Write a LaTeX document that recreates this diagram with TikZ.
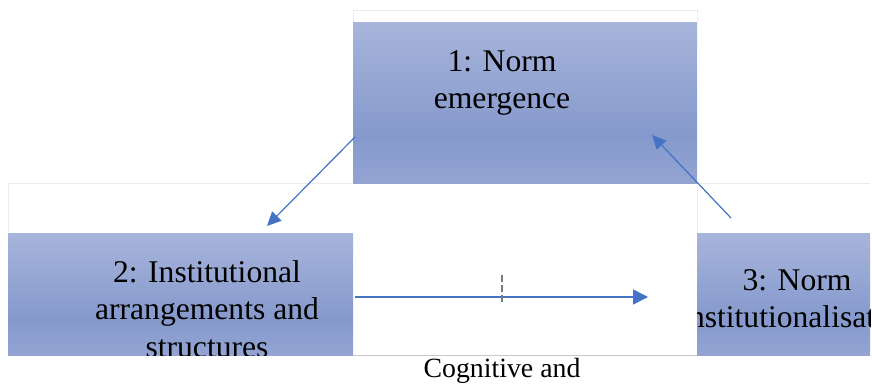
\documentclass[tikz,border=0pt]{standalone}
\usepackage{fontspec}
\setmainfont{Liberation Serif}
\usetikzlibrary{arrows.meta}
\definecolor{gT}{HTML}{A7B5DB}
\definecolor{gM}{HTML}{8599CC}
\definecolor{gB}{HTML}{93A4D3}
\definecolor{arrowblue}{HTML}{4472C4}
\definecolor{lineblue}{HTML}{6E8FCB}
\definecolor{framegrey}{HTML}{E8EBF4}
\definecolor{rulegrey}{HTML}{C8C8C8}
\definecolor{tickgrey}{HTML}{7A7A7A}
\pgfdeclareverticalshading{wordgrad}{100bp}{color(0bp)=(gB); color(25bp)=(gB); color(40bp)=(gM); color(75bp)=(gT); color(100bp)=(gT)}
\begin{document}
\begin{tikzpicture}[x=1pt,y=-1pt,
  box/.style={shading=wordgrad, shade, draw=none, inner sep=0pt, anchor=north west},
  lbl/.style={inner sep=0pt, anchor=base, font=\fontsize{31.6}{37}\selectfont},
  small/.style={inner sep=0pt, anchor=base, font=\fontsize{27.8}{32}\selectfont},
  frame/.style={draw=framegrey, line width=0.8pt},
  link/.style={draw=arrowblue, line width=1.2pt, -{Triangle[length=14pt,width=13pt]}},
  flow/.style={draw=lineblue, line width=1.5pt, -{Triangle[length=15pt,width=15pt]}, arrowblue}
]
\useasboundingbox (0,0) rectangle (872,383);

% faint text-frame outlines
\draw[frame] (353,22) -- (353,10) -- (697,10) -- (697,22);
\draw[frame] (8,233) -- (8,183) -- (353,183);
\draw[frame] (697,233) -- (697,183) -- (870,183);
\draw[draw=rulegrey, line width=0.8pt] (353,355) -- (697,355);

% shaded boxes
\node[box, minimum width=344pt, minimum height=161pt] (n1) at (353,22) {};
\node[box, minimum width=345pt, minimum height=122pt] (n2) at (8,233) {};
\node[box, minimum width=173pt, minimum height=122pt] (n3) at (697,233) {};

% box texts
\node[lbl] (t1a) at (502,71) {1: Norm};
\node[lbl] (t1b) at (502,108) {emergence};
\begin{scope}
  \clip (8,233) rectangle (353,355);
  \node[lbl] (t2a) at (207,282) {2: Institutional};
  \node[lbl] (t2b) at (207,319) {arrangements and};
  \node[lbl] (t2c) at (207,357) {structures};
\end{scope}
\begin{scope}
  \clip (697,233) rectangle (870,355);
  \node[lbl] (t3a) at (797,290) {3: Norm};
  \node[lbl] (t3b) at (797,327) {Institutionalisation};
\end{scope}
\node[small] (t4) at (502,377) {Cognitive and};

% connector end points
\coordinate (a1s) at (355,137);
\coordinate (a1e) at (267,226);
\coordinate (a3s) at (731,218);
\coordinate (a3e) at (652,135);
\coordinate (hs) at (355,297);
\coordinate (he) at (648,297);
\coordinate (tickTop) at (502,275);
\coordinate (tickBot) at (502,304);

\draw[link] (a1s) -- (a1e);
\draw[link] (a3s) -- (a3e);
\draw[flow] (hs) -- (he);
\draw[draw=tickgrey, line width=2.6pt, dash pattern=on 7pt off 3pt] (tickTop) -- (tickBot);
\end{tikzpicture}
\end{document}
